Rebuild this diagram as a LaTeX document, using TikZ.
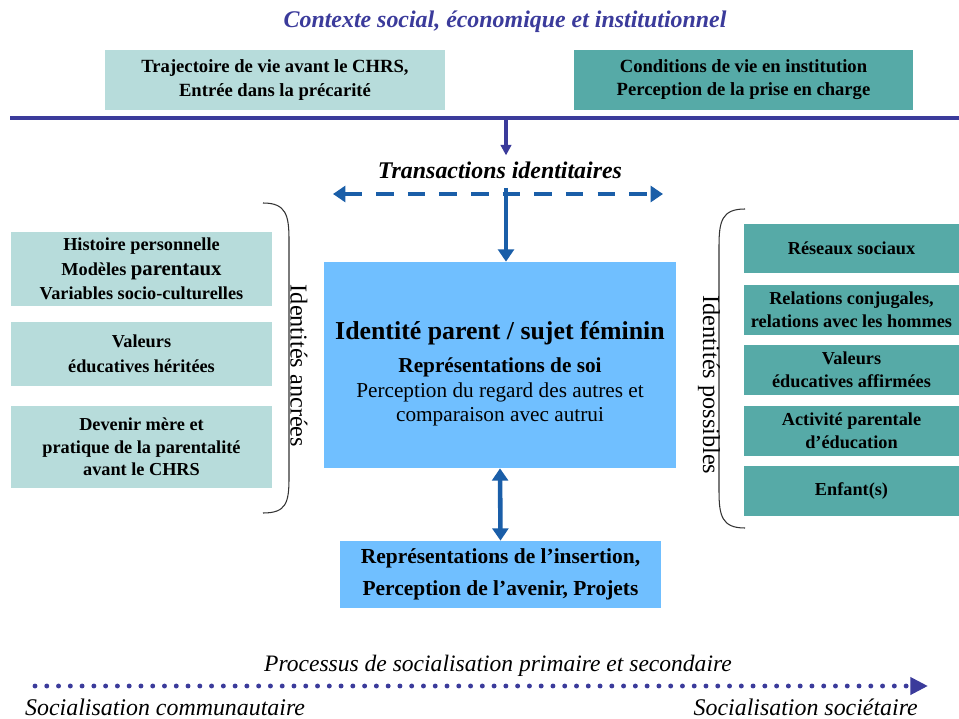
\documentclass[tikz,border=0pt]{standalone}
\usepackage{fontspec}
\setmainfont{Liberation Serif}
\usetikzlibrary{arrows.meta}

\definecolor{paleteal}{HTML}{B7DCDB}
\definecolor{darkteal}{HTML}{56AAA7}
\definecolor{skyblue}{HTML}{70BFFF}
\definecolor{navy}{HTML}{3B3B9B}
\definecolor{arrowblue}{HTML}{1A5EA8}

\begin{document}
\begin{tikzpicture}[x=0.02cm, y=-0.02cm,
    box/.style={inner sep=0pt, align=center, font=\bfseries},
    navybox/.style={box, fill=paleteal},
    tealbox/.style={box, fill=darkteal},
    bluebox/.style={box, fill=skyblue},
    brace/.style={line width=0.6pt, black!80},
    tiparrow/.style={arrowblue, line width=2.6pt, -{Triangle[length=7pt, width=9pt]}}]
    \useasboundingbox (0,0) rectangle (959,719);

    % context
    \node[font=\itshape\bfseries\fontsize{13.6}{16}\selectfont, text=navy] (ctx) at (505,22) {Contexte social, économique et institutionnel};
    \node[navybox, minimum width=6.8cm, minimum height=1.2cm, font=\bfseries\fontsize{10.6}{13.2}\selectfont] (traj) at (275,80) {Trajectoire de vie avant le CHRS,\\Entrée dans la précarité};
    \node[tealbox, minimum width=6.78cm, minimum height=1.2cm, font=\bfseries\fontsize{10.6}{13.2}\selectfont] (cond) at (743.5,80) {Conditions de vie en institution\\Perception de la prise en charge};
    \coordinate (lineL) at (10,118);
    \coordinate (lineR) at (959,118);
    \coordinate (lineM) at (506,118);
    \draw[navy, line width=1.8pt] (lineL) -- (lineR);

    % transactions
    \node[font=\bfseries\itshape\fontsize{13.6}{16}\selectfont] (trans) at (500,170) {Transactions identitaires};
    \draw[navy, line width=1.8pt, -{Triangle[length=6pt, width=6pt]}] (lineM) -- (lineM |- trans.north);
    \coordinate (dashL) at (333,194);
    \coordinate (dashR) at (663,194);
    \coordinate (dashM) at (506,188);
    \draw[arrowblue, line width=2.6pt, dash pattern=on 10pt off 8pt, {Triangle[length=7pt, width=9pt]}-{Triangle[length=7pt, width=9pt]}] (dashL) -- (dashR);

    % centre
    \node[bluebox, minimum width=7.04cm, minimum height=4.12cm] (ident) at (500,365) {};
    \node[font=\bfseries\fontsize{14.7}{17}\selectfont] (identtitle) at (500,333) {Identité parent / sujet féminin};
    \node[font=\fontsize{12.1}{13.8}\selectfont, align=center] (identtext) at (500,392) {\textbf{Représentations de soi}\\Perception du regard des autres et\\comparaison avec autrui};
    \draw[tiparrow] (dashM) -- (dashM |- ident.north);

    \node[bluebox, minimum width=6.42cm, minimum height=1.34cm, font=\bfseries\fontsize{12.2}{18}\selectfont] (insert) at (500.5,574.5) {Représentations de l’insertion,\\Perception de l’avenir, Projets};
    \draw[tiparrow, {Triangle[length=7pt, width=9pt]}-{Triangle[length=7pt, width=9pt]}] (ident.south) -- (insert.north);

    % identites ancrees
    \node[navybox, minimum width=5.22cm, minimum height=1.48cm, font=\bfseries\fontsize{10.4}{13.9}\selectfont] (hist) at (141.5,269) {Histoire personnelle\\Modèles {\fontsize{11.8}{13.9}\selectfont parentaux}\\Variables socio-culturelles};
    \node[navybox, minimum width=5.22cm, minimum height=1.28cm, font=\bfseries\fontsize{10.4}{14.5}\selectfont] (herit) at (141.5,354) {Valeurs\\éducatives héritées};
    \node[navybox, minimum width=5.22cm, minimum height=1.64cm, font=\bfseries\fontsize{10.4}{12.8}\selectfont] (mere) at (141.5,447) {Devenir mère et\\pratique de la parentalité\\avant le CHRS};
    \draw[brace] (263,203) .. controls (286,203) and (289,215) .. (289,240) -- (289,478) .. controls (289,503) and (286,513) .. (263,513);
    \node[rotate=-90, font=\fontsize{13.8}{16}\selectfont] (ancre) at (299,366) {Identités ancrées};

    % identites possibles
    \node[tealbox, minimum width=4.3cm, minimum height=0.98cm, font=\bfseries\fontsize{10.4}{13}\selectfont] (reseau) at (851.5,248.5) {Réseaux sociaux};
    \node[tealbox, minimum width=4.3cm, minimum height=1.0cm, font=\bfseries\fontsize{10.4}{13}\selectfont] (conj) at (851.5,310) {Relations conjugales,\\relations avec les hommes};
    \node[tealbox, minimum width=4.3cm, minimum height=1.0cm, font=\bfseries\fontsize{10.4}{13}\selectfont] (affirm) at (851.5,370) {Valeurs\\éducatives affirmées};
    \node[tealbox, minimum width=4.3cm, minimum height=1.0cm, font=\bfseries\fontsize{10.4}{13}\selectfont] (activ) at (851.5,431) {Activité parentale\\d’éducation};
    \node[tealbox, minimum width=4.3cm, minimum height=1.0cm, font=\bfseries\fontsize{10.4}{13}\selectfont] (enfant) at (851.5,491) {Enfant(s)};
    \draw[brace] (745,209) .. controls (722,209) and (719,221) .. (719,246) -- (719,491) .. controls (719,516) and (722,528) .. (745,528);
    \node[rotate=-90, font=\fontsize{13.8}{16}\selectfont] (possible) at (709,385) {Identités possibles};

    % socialisation
    \node[anchor=base, font=\itshape\fontsize{13.4}{15}\selectfont] (proc) at (498,671) {Processus de socialisation primaire et secondaire};
    \coordinate (dotL) at (35,686);
    \coordinate (dotR) at (928,686);
    \draw[navy, line width=2.8pt, line cap=round, dash pattern=on 0pt off 6.7pt, -{Triangle[length=10pt, width=9.5pt]}] (dotL) -- (dotR);
    \node[anchor=base west, font=\itshape\fontsize{13.6}{15}\selectfont] (comm) at (19,715) {Socialisation communautaire};
    \node[anchor=base east, font=\itshape\fontsize{13.6}{15}\selectfont] (soc) at (924,715) {Socialisation sociétaire};
\end{tikzpicture}
\end{document}
